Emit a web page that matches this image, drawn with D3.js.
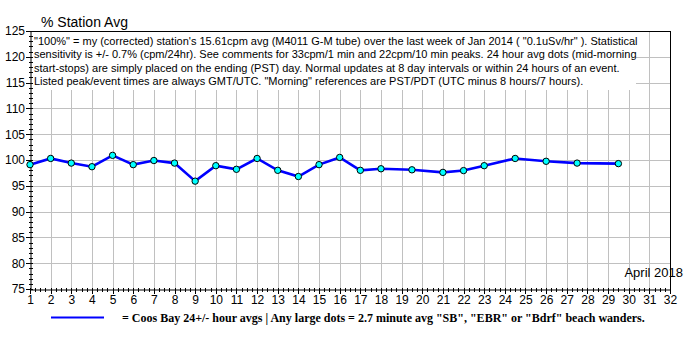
<!DOCTYPE html>
<html><head><meta charset="utf-8">
<script src="https://cdn.jsdelivr.net/npm/d3@7"></script>
<style>body{margin:0;background:#fff}svg{display:block}</style>
</head><body>
<svg id="c" width="700" height="350"></svg>
<script>
const days = [1,2,3,4,5,6,7,8,9,10,11,12,13,14,15,16,17,18,19.5,21,22,23,24.5,26,27.5,29.5];
const values = [99.1,100.3,99.4,98.7,100.9,99.1,99.9,99.4,95.9,98.9,98.2,100.3,98.0,96.8,99.1,100.5,98.0,98.3,98.1,97.6,97.95,98.9,100.3,99.75,99.4,99.3];
const xTicks = d3.range(1,33);
const yTicks = d3.range(75,126,5);
const noteLines = [
 "\"100%\" = my (corrected) station's 15.61cpm avg (M4011 G-M tube) over the last week of Jan 2014 ( \"0.1uSv/hr\" ). Statistical",
 "sensitivity is +/- 0.7% (cpm/24hr). See comments for 33cpm/1 min and 22cpm/10 min peaks. 24 hour avg dots (mid-morning",
 "start-stops) are simply placed on the ending (PST) day. Normal updates at 8 day intervals or within 24 hours of an event.",
 "Listed peak/event times are always GMT/UTC.  \"Morning\" references are PST/PDT (UTC minus 8 hours/7 hours)."
];
const yTitle = "% Station Avg";
const monthLabel = "April 2018";
const legendText = "= Coos Bay 24+/- hour avgs | Any large dots = 2.7 minute avg \"SB\", \"EBR\" or \"Bdrf\" beach wanders.";

const svg = d3.select("#c");
const x = d3.scaleLinear().domain([1,32]).range([30,670]);
const y = d3.scaleLinear().domain([75,125]).range([289,31]);
const sans = "'Liberation Sans', Arial, sans-serif";

// gridlines
const g = svg.append("g").attr("shape-rendering","crispEdges");
g.selectAll(".vg").data(xTicks.slice(1)).join("line")
 .attr("x1",d=>Math.round(x(d))+0.5).attr("x2",d=>Math.round(x(d))+0.5)
 .attr("y1",y(125)).attr("y2",y(75)).attr("stroke","#c0c0c0");
g.selectAll(".hg").data(yTicks.slice(1)).join("line")
 .attr("x1",x(1)).attr("x2",x(32))
 .attr("y1",d=>Math.round(y(d))+0.5).attr("y2",d=>Math.round(y(d))+0.5).attr("stroke","#c0c0c0");

// note box
svg.append("rect").attr("x",31).attr("y",31).attr("width",605).attr("height",59).attr("fill","#fff");
svg.append("g").selectAll("text").data(noteLines).join("text")
 .attr("x",34).attr("y",(d,i)=>44.5+i*13.5)
 .attr("font-family",sans).attr("font-size",11).attr("fill","#000").text(d=>d);

// frame
const f = svg.append("g").attr("shape-rendering","crispEdges").attr("stroke","#000");
f.append("line").attr("x1",x(1)).attr("x2",x(32)+0.5).attr("y1",31.5).attr("y2",31.5);
f.append("line").attr("x1",670.5).attr("x2",670.5).attr("y1",31).attr("y2",289);

// axes
const yAxis = d3.axisLeft(y).tickValues(d3.range(75,126,1)).tickSize(0).tickFormat("");
const ya = svg.append("g").attr("transform",`translate(${x(1)+0.5},0)`).call(yAxis);
ya.select(".domain").attr("stroke","#000");
ya.selectAll(".tick line").remove();
ya.selectAll(".tick").append("line")
 .attr("x1",d=>d%5===0?-5:-2).attr("x2",2).attr("stroke","#000").attr("shape-rendering","crispEdges");
const ya2 = svg.append("g").attr("transform",`translate(${x(1)},0)`)
 .call(d3.axisLeft(y).tickValues(yTicks).tickSize(0).tickPadding(5));
ya2.select(".domain").remove();
ya2.selectAll("text").attr("font-family",sans).attr("font-size",12).attr("fill","#000");

const xa = svg.append("g").attr("transform",`translate(0,${y(75)+0.5})`)
 .call(d3.axisBottom(x).tickValues(d3.range(1,32.01,0.25)).tickSize(0).tickFormat(""));
xa.select(".domain").attr("stroke","#000");
xa.selectAll(".tick").append("line")
 .attr("y1",-2).attr("y2",d=>Number.isInteger(d)?4:2).attr("stroke","#000").attr("shape-rendering","crispEdges");
const xa2 = svg.append("g").attr("transform",`translate(0,${y(75)})`)
 .call(d3.axisBottom(x).tickValues(xTicks).tickSize(0).tickPadding(6));
xa2.select(".domain").remove();
xa2.selectAll("text").attr("font-family",sans).attr("font-size",12).attr("fill","#000");

// titles
svg.append("text").attr("x",41).attr("y",27).attr("font-family",sans).attr("font-size",14).text(yTitle);
svg.append("text").attr("x",683).attr("y",277).attr("text-anchor","end").attr("font-family",sans).attr("font-size",13).text(monthLabel);

// data
const pts = days.map((d,i)=>[d,values[i]]);
svg.append("path").datum(pts)
 .attr("d",d3.line().x(d=>x(d[0])).y(d=>y(d[1])))
 .attr("fill","none").attr("stroke","#0000ff").attr("stroke-width",2.6);
svg.append("g").selectAll("circle").data(pts).join("circle")
 .attr("cx",d=>x(d[0])).attr("cy",d=>y(d[1])).attr("r",3.2)
 .attr("fill","#00ffff").attr("stroke","#000").attr("stroke-width",1);

// legend
svg.append("line").attr("x1",51).attr("x2",104).attr("y1",317.5).attr("y2",317.5)
 .attr("stroke","#0000ff").attr("stroke-width",2);
svg.append("text").attr("x",122).attr("y",322).attr("font-family","'Liberation Serif','Times New Roman',serif")
 .attr("font-weight","bold").attr("font-size",12).text(legendText);
</script>
</body></html>
